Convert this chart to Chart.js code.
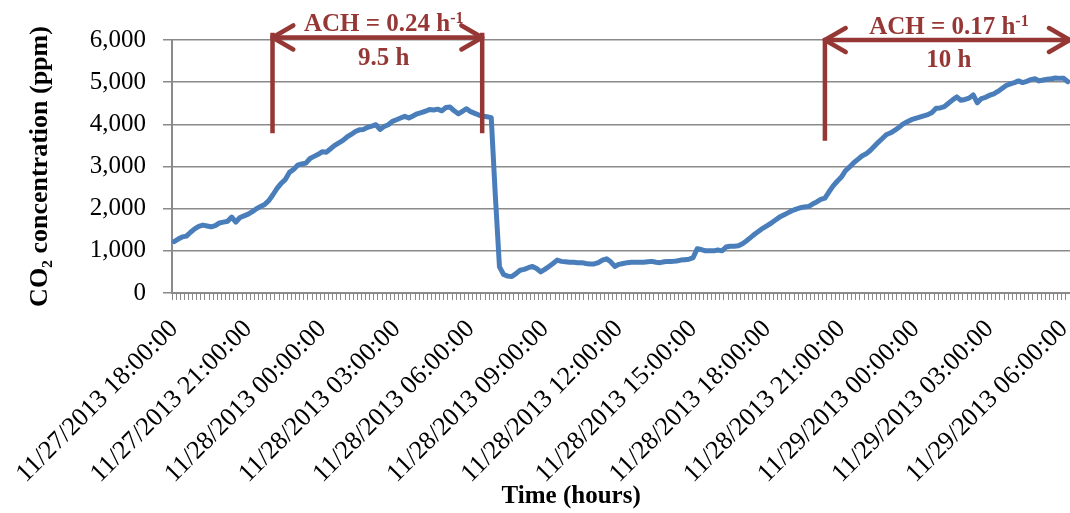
<!DOCTYPE html>
<html>
<head>
<meta charset="utf-8">
<script src="https://cdn.jsdelivr.net/npm/chart.js@4/dist/chart.umd.min.js"></script>
<style>
  html, body { margin: 0; padding: 0; background: #ffffff; }
  #wrap { width: 1070px; height: 513px; position: relative; }
</style>
</head>
<body>
<div id="wrap"><canvas id="co2Chart"></canvas></div>
<script>
// CO2 logger readings, one every 10 minutes starting 11/27/2013 18:00:00
const startUtc = Date.UTC(2013, 10, 27, 18, 0, 0);
const stepMinutes = 10;

const co2ppm = [
  1220, 1280, 1330, 1350, 1440, 1520, 1580, 1610, 1590, 1570,
  1600, 1660, 1680, 1700, 1800, 1680, 1790, 1830, 1870, 1930,
  2000, 2050, 2100, 2190, 2330, 2480, 2600, 2690, 2860, 2930,
  3030, 3060, 3080, 3190, 3240, 3290, 3350, 3340, 3420, 3500,
  3560, 3620, 3700, 3760, 3830, 3870, 3880, 3930, 3960, 3990,
  3880, 3950, 3990, 4070, 4110, 4150, 4190, 4150, 4200, 4250,
  4280, 4310, 4350, 4340, 4360, 4320, 4400, 4410, 4320, 4250,
  4310, 4370, 4300, 4260, 4220, 4190, 4180, 4160, 2300, 620,
  440, 400, 390, 460, 540, 560, 600, 630, 580, 500,
  560, 630, 700, 780, 750, 740, 730, 730, 720, 720,
  700, 690, 690, 720, 780, 810, 740, 630, 680, 700,
  720, 730, 730, 730, 730, 740, 750, 730, 720, 740,
  750, 750, 760, 780, 790, 800, 840, 1050, 1030, 1000,
  1000, 1000, 1020, 1000, 1090, 1110, 1110, 1120, 1170, 1240,
  1320, 1400, 1470, 1540, 1600, 1660, 1730, 1800, 1850, 1900,
  1950, 1990, 2020, 2040, 2050, 2110, 2160, 2220, 2250, 2400,
  2540, 2650, 2750, 2900, 2990, 3090, 3170, 3250, 3300, 3380,
  3480, 3580, 3670, 3760, 3800, 3860, 3930, 4010, 4060, 4110,
  4140, 4170, 4200, 4230, 4280, 4380, 4390, 4420, 4500, 4580,
  4650, 4570, 4590, 4620, 4700, 4510, 4610, 4640, 4690, 4720,
  4780, 4850, 4920, 4960, 4990, 5030, 4990, 5020, 5060, 5080,
  5030, 5050, 5070, 5080, 5100, 5090, 5090, 5010
];

// a date label is printed every 3 hours (18 readings)
const labelEvery = 18;
const yMin = 0, yMax = 6000, yStep = 1000;
const xTitle = 'Time (hours)';
const yTitle = 'CO₂ concentration (ppm)';

// decay periods marked above the curve (positions in reading index / ppm)
const decayPeriods = [
  { from: 23.9, to: 74.8, closeRight: true, top: 6170, bottom: 3790, arrowY: 6060,
    textAt: 50.9, rateY: 6215, timeY: 5405, rate: 'ACH = 0.24 h', time: '9.5 h' },
  { from: 158.0, to: 217.45, closeRight: false, top: 6050, bottom: 3610, arrowY: 6000,
    textAt: 188.1, rateY: 6150, timeY: 5365, rate: 'ACH = 0.17 h', time: '10 h' }
];
// the axis title sits under this reading index
const xTitleAt = 96.4;

const pad2 = n => String(n).padStart(2, '0');
const timestamps = co2ppm.map((_, i) => {
  const t = new Date(startUtc + i * stepMinutes * 60000);
  return `${t.getUTCMonth() + 1}/${t.getUTCDate()}/${t.getUTCFullYear()} ` +
         `${pad2(t.getUTCHours())}:${pad2(t.getUTCMinutes())}:${pad2(t.getUTCSeconds())}`;
});

const SERIF = '"Liberation Serif", "Times New Roman", serif';
const RED = '#953735';
const GRID = '#8a8a8a';

function drawArrowHead(ctx, tipX, tipY, dir) {
  const len = 24, ang = Math.PI / 6;
  ctx.beginPath();
  ctx.moveTo(tipX + dir * len * Math.cos(ang), tipY - len * Math.sin(ang));
  ctx.lineTo(tipX, tipY);
  ctx.lineTo(tipX + dir * len * Math.cos(ang), tipY + len * Math.sin(ang));
  ctx.stroke();
}

function drawRateText(ctx, text, cx, baseY) {
  const mainFont = `bold 25px ${SERIF}`;
  const supFont = `bold 16px ${SERIF}`;
  ctx.font = mainFont;
  const w1 = ctx.measureText(text).width;
  ctx.font = supFont;
  const w2 = ctx.measureText('-1').width;
  const x0 = cx - (w1 + w2) / 2;
  ctx.textAlign = 'left';
  ctx.textBaseline = 'alphabetic';
  ctx.font = mainFont;
  ctx.fillText(text, x0, baseY);
  ctx.font = supFont;
  ctx.fillText('-1', x0 + w1, baseY - 8);
}

const decayMarks = {
  id: 'decayMarks',
  afterDatasetsDraw(chart) {
    const { ctx, scales: { x, y } } = chart;
    ctx.save();
    ctx.strokeStyle = RED;
    ctx.fillStyle = RED;
    ctx.lineWidth = 4.5;
    decayPeriods.forEach(p => {
      const x1 = x.getPixelForValue(p.from);
      const x2 = x.getPixelForValue(p.to);
      const yTop = y.getPixelForValue(p.top);
      const yBot = y.getPixelForValue(p.bottom);
      const yArr = y.getPixelForValue(p.arrowY);

      ctx.lineCap = 'butt';
      ctx.beginPath();
      ctx.moveTo(x1, yTop); ctx.lineTo(x1, yBot);
      if (p.closeRight) { ctx.moveTo(x2, yTop); ctx.lineTo(x2, yBot); }
      ctx.stroke();

      ctx.lineCap = 'round';
      ctx.lineJoin = 'round';
      ctx.beginPath();
      ctx.moveTo(x1, yArr); ctx.lineTo(x2, yArr);
      ctx.stroke();
      drawArrowHead(ctx, x1, yArr, 1);
      drawArrowHead(ctx, x2, yArr, -1);

      const cx = x.getPixelForValue(p.textAt);
      drawRateText(ctx, p.rate, cx, y.getPixelForValue(p.rateY));
      ctx.font = `bold 25px ${SERIF}`;
      ctx.textAlign = 'center';
      ctx.fillText(p.time, cx, y.getPixelForValue(p.timeY));
    });

    // horizontal axis title
    ctx.fillStyle = '#000';
    ctx.font = `bold 25px ${SERIF}`;
    ctx.textAlign = 'center';
    ctx.textBaseline = 'middle';
    ctx.fillText(xTitle, x.getPixelForValue(xTitleAt), chart.height - 16);
    ctx.restore();
  }
};

new Chart(document.getElementById('co2Chart'), {
  type: 'line',
  data: {
    labels: timestamps,
    datasets: [{
      data: co2ppm,
      borderColor: '#4a7ebb',
      borderWidth: 5,
      pointRadius: 0,
      pointHoverRadius: 0,
      tension: 0,
      borderJoinStyle: 'round',
      borderCapStyle: 'round',
      fill: false
    }]
  },
  options: {
    responsive: true,
    maintainAspectRatio: false,
    animation: false,
    events: [],
    layout: { padding: { top: 40, left: 0, right: 0, bottom: 0 } },
    plugins: { legend: { display: false }, tooltip: { enabled: false } },
    scales: {
      x: {
        type: 'category',
        offset: true,
        grid: {
          offset: true,
          drawOnChartArea: false,
          drawTicks: true,
          tickLength: 7,
          color: GRID,
          lineWidth: 1
        },
        border: { display: true, color: GRID, width: 2 },
        ticks: {
          autoSkip: false,
          minRotation: 45,
          maxRotation: 45,
          padding: 14,
          color: '#000',
          font: { family: SERIF, size: 26 },
          callback: (v, i) => (i % labelEvery === 0 ? timestamps[i] : '')
        },
        title: { display: false },
        afterFit(scale) {
          scale.height = 220;
          scale.paddingLeft = 0;
          scale.paddingRight = 0;
        }
      },
      y: {
        min: yMin,
        max: yMax,
        grid: {
          color: GRID,
          lineWidth: 1.5,
          drawTicks: true,
          tickLength: 9
        },
        border: { display: true, color: GRID, width: 2 },
        ticks: {
          stepSize: yStep,
          padding: 17,
          color: '#000',
          font: { family: SERIF, size: 25 },
          callback: v => Number(v).toLocaleString('en-US')
        },
        title: {
          display: true,
          text: yTitle,
          color: '#000',
          font: { family: SERIF, size: 26, weight: 'bold' },
          padding: { top: 25, bottom: 0 }
        },
        afterFit(scale) {
          scale.width = 172;
        }
      }
    }
  },
  plugins: [decayMarks]
});
</script>
</body>
</html>
